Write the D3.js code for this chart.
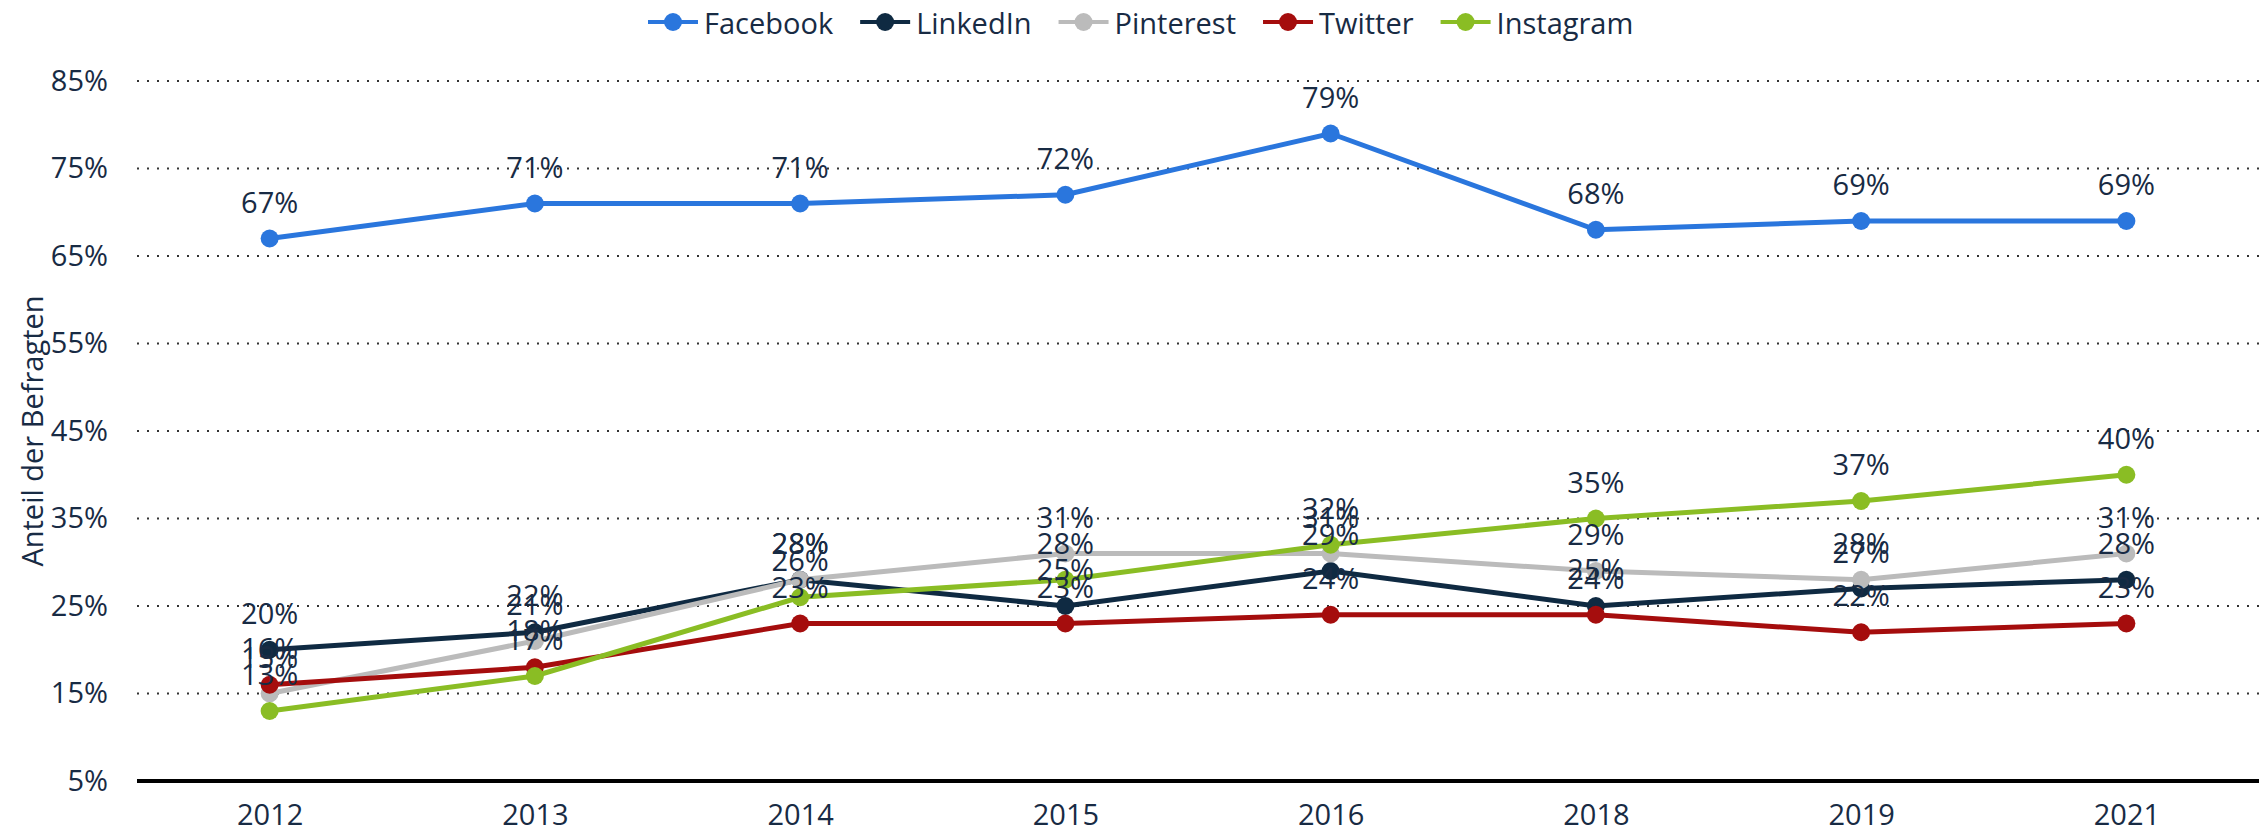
<!DOCTYPE html>
<html>
<head>
<meta charset="utf-8">
<style>
  body { margin: 0; background: #fff; }
  svg text { font-family: "Open Sans", sans-serif; fill: #182b44; }
</style>
</head>
<body>
<div id="chart"></div>
<script src="https://d3js.org/d3.v7.min.js"></script>
<script>
// years on the x axis
var years = ["2012", "2013", "2014", "2015", "2016", "2018", "2019", "2021"];
var yTicks = [5, 15, 25, 35, 45, 55, 65, 75, 85];

// share of respondents per network, in %
var facebook  = [67, 71, 71, 72, 79, 68, 69, 69];
var linkedin  = [20, 22, 28, 25, 29, 25, 27, 28];
var pinterest = [15, 21, 28, 31, 31, 29, 28, 31];
var twitter   = [16, 18, 23, 23, 24, 24, 22, 23];
var instagram = [13, 17, 26, 28, 32, 35, 37, 40];

var seriesNames = ["Facebook", "LinkedIn", "Pinterest", "Twitter", "Instagram"];
var seriesValues = [facebook, linkedin, pinterest, twitter, instagram];
var colors = ["#2a76dd", "#0f2a42", "#bbbbbb", "#a50d0d", "#8abd24"];

var width = 2268, height = 833;
var fontSize = "29px";

var svg = d3.select("#chart").append("svg")
  .attr("width", width)
  .attr("height", height);

var x = d3.scalePoint()
  .domain(years)
  .range([137, 2259])
  .padding(0.5);

var y = d3.scaleLinear()
  .domain([5, 85])
  .range([781, 81]);

// dotted grid lines
svg.append("g")
  .selectAll("line")
  .data(yTicks.filter(function(d) { return d > 5; }))
  .enter().append("line")
    .attr("x1", 137)
    .attr("x2", 2259)
    .attr("y1", function(d) { return y(d); })
    .attr("y2", function(d) { return y(d); })
    .attr("stroke", "#333")
    .attr("stroke-width", 2)
    .attr("stroke-dasharray", "2,8");

// y axis labels
var yAxis = svg.append("g")
  .attr("transform", "translate(137,0)")
  .call(d3.axisLeft(y).tickValues(yTicks).tickSize(0).tickPadding(29).tickFormat(function(d) { return d + "%"; }));
yAxis.select(".domain").remove();
yAxis.selectAll("text")
  .style("font-size", fontSize)
  .style("font-family", "'Open Sans', sans-serif")
  .attr("fill", "#182b44");

// x axis
var xAxis = svg.append("g")
  .attr("transform", "translate(0,781)")
  .call(d3.axisBottom(x).tickSize(0).tickPadding(23));
xAxis.select(".domain").remove();
xAxis.selectAll("text")
  .style("font-size", fontSize)
  .style("font-family", "'Open Sans', sans-serif")
  .attr("fill", "#182b44");

svg.append("line")
  .attr("x1", 137).attr("x2", 2259)
  .attr("y1", y(5)).attr("y2", y(5))
  .attr("stroke", "#000")
  .attr("stroke-width", 4);

// axis title
svg.append("text")
  .attr("transform", "translate(31," + y(45) + ") rotate(-90)")
  .attr("text-anchor", "middle")
  .attr("dominant-baseline", "central")
  .style("font-size", "29px")
  .text("Anteil der Befragten");

var line = d3.line()
  .x(function(d, i) { return x(years[i]); })
  .y(function(d) { return y(d); });

// lines and markers
seriesValues.forEach(function(vals, s) {
  svg.append("path")
    .datum(vals)
    .attr("fill", "none")
    .attr("stroke", colors[s])
    .attr("stroke-width", 5)
    .attr("d", line);

  svg.append("g")
    .selectAll("circle")
    .data(vals)
    .enter().append("circle")
      .attr("cx", function(d, i) { return x(years[i]); })
      .attr("cy", function(d) { return y(d); })
      .attr("r", 9)
      .attr("fill", colors[s]);
});

// value labels on top
seriesValues.forEach(function(vals, s) {
  svg.append("g")
    .selectAll("text")
    .data(vals)
    .enter().append("text")
      .attr("x", function(d, i) { return x(years[i]); })
      .attr("y", function(d) { return y(d) - 26; })
      .attr("text-anchor", "middle")
      .style("font-size", fontSize)
      .text(function(d) { return d + "%"; });
});

// legend
var legend = svg.append("g").attr("transform", "translate(648,22)");
var lx = 0;
seriesNames.forEach(function(name, s) {
  var item = legend.append("g").attr("transform", "translate(" + lx + ",0)");
  item.append("line")
    .attr("x1", 0).attr("x2", 50)
    .attr("stroke", colors[s])
    .attr("stroke-width", 4);
  item.append("circle")
    .attr("cx", 25).attr("r", 9)
    .attr("fill", colors[s]);
  var t = item.append("text")
    .attr("x", 56)
    .attr("dominant-baseline", "central")
    .style("font-size", fontSize)
    .text(name);
  lx += 56 + t.node().getComputedTextLength() + 27;
});
</script>
</body>
</html>
